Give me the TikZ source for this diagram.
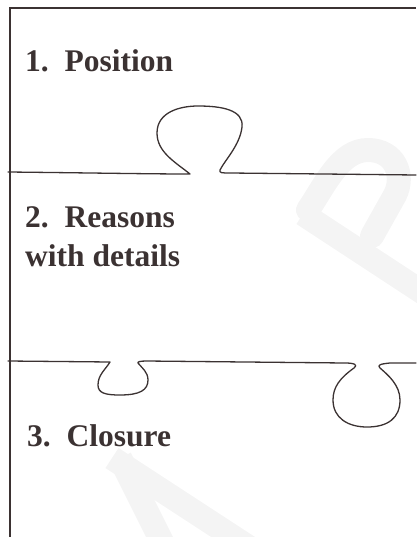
\documentclass[tikz,border=0pt]{standalone}
\usepackage{fontspec}
\setmainfont{Liberation Serif}
\definecolor{ink}{HTML}{3B3232}
\definecolor{wm}{HTML}{F4F4F4}
\begin{document}
\begin{tikzpicture}[x=1pt,y=-1pt,
  puzzle/.style={draw=ink,line width=1.3pt,line join=round,line cap=round},
  frame/.style={draw=ink,line width=2pt},
  wmark/.style={draw=wm,line width=24pt},
  lbl/.style={text=ink,font=\fontsize{31.5}{39}\selectfont\bfseries,inner sep=0pt,align=left}]
\useasboundingbox (0,0) rectangle (416,537);
% watermark
\draw[wmark] (303,214) -- (425,294);
\draw[wmark,line cap=round] (308,210) .. controls (325,185) and (340,150) .. (368,150) .. controls (395,150) and (405,175) .. (395,195) -- (372,236);
\draw[wmark] (112,458) -- (250,548);
\draw[wmark] (120,458) -- (165,548);
% frame
\draw[frame] (10,537) -- (10,8) -- (416,8);
% puzzle edge 1
\draw[puzzle] (8,172) .. controls (100,173) and (150,174) .. (190,174)
  .. controls (175,162) and (157,152) .. (157,133)
  .. controls (157,112) and (180,106) .. (198,106)
  .. controls (222,106) and (244,110) .. (242,127)
  .. controls (240,145) and (225,160) .. (220,170)
  .. controls (219,173) and (222,173) .. (230,173) -- (416,175);
% puzzle edge 2
\draw[puzzle] (8,361) -- (110,362)
  .. controls (105,370) and (98,375) .. (98,385)
  .. controls (98,393) and (105,395) .. (120,395)
  .. controls (140,395) and (148,390) .. (148,380)
  .. controls (148,372) and (142,368) .. (138,363)
  .. controls (137,362) and (140,361) .. (146,361) -- (345,363)
  .. controls (355,363) and (358,365) .. (354,368)
  .. controls (340,378) and (333,387) .. (333,400)
  .. controls (333,418) and (348,427) .. (367,427)
  .. controls (388,427) and (400,418) .. (400,400)
  .. controls (400,385) and (388,375) .. (380,368)
  .. controls (377,365) and (380,364) .. (390,363) -- (416,363);
% labels
\node[lbl,anchor=base west] (t1) at (25,72) {1.\ \ Position};
\node[lbl,anchor=base west] (t2) at (25,266) {2.\ \ Reasons\\with details};
\node[lbl,anchor=base west] (t3) at (27,446) {3.\ \ Closure};
\end{tikzpicture}
\end{document}
